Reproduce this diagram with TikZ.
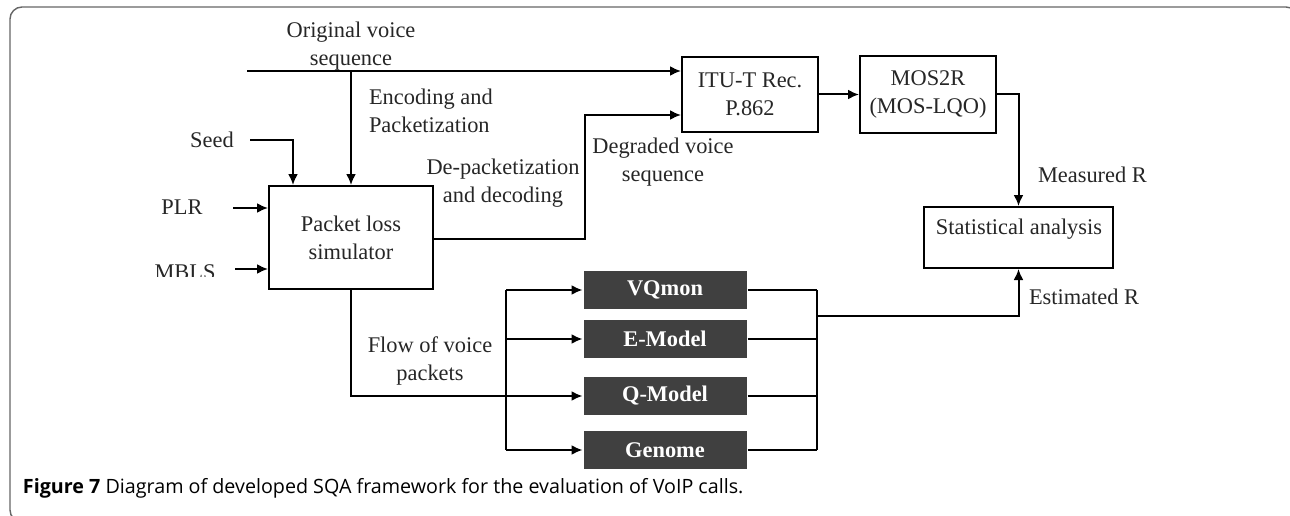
\documentclass[tikz,border=0pt]{standalone}
\usepackage{fontspec}
\setmainfont{Liberation Serif}
\newfontfamily\capfont{Open Sans}
\usetikzlibrary{arrows.meta}

\begin{document}
\begin{tikzpicture}[x=1pt,y=-1pt,line width=2pt,
    >={Latex[length=11pt,width=10pt]},
    every node/.style={font=\fontsize{22.4}{28}\selectfont,text=black!85,inner sep=2pt},
    blk/.style={draw,rectangle,align=center},
    model/.style={fill=black!75,text=white,font=\fontsize{22.4}{28}\selectfont\bfseries,
                  minimum width=163pt,minimum height=38pt,inner sep=0pt},
    lbl/.style={align=center}]
    \clip (0,0) rectangle (1290,516);
    \draw[black!60,line width=1.4pt,rounded corners=12pt] (10,7) rectangle (1298,522);
    % blocks
    \node[blk,minimum width=164pt,minimum height=103pt] (plsim) at (351,237.5) {Packet loss\\simulator};
    \node[blk,minimum width=136pt,minimum height=75pt] (itu) at (750,94.5) {ITU-T Rec.\\P.862};
    \node[blk,minimum width=136pt,minimum height=77pt] (mos) at (928,94.5) {MOS2R\\(MOS-LQO)};
    \node[blk,minimum width=189pt,minimum height=61pt] (stat) at (1018.5,237.5) {};
    \node (stattxt) at (1019,229) {Statistical analysis};
    \node[model] (vq) at (665,290) {VQmon};
    \node[model] (em) at (665,339) {E-Model};
    \node[model] (qm) at (665,396) {Q-Model};
    \node[model] (gn) at (665,450) {Genome};
    % inputs
    \node (seed) at (212,140) {Seed};
    \node (plr) at (182,207) {PLR};
    \begin{scope}
        \clip (100,250) rectangle (240,276);
        \node (mbls) at (185,272.5) {MBLS};
    \end{scope}
    \coordinate (origin) at (247,71);
    \coordinate (seedout) at (250,140);
    \coordinate (plrout) at (233,208);
    \coordinate (mblsout) at (235,269);
    \coordinate (degup) at (585,115);
    \coordinate (busin) at (506,0);
    \coordinate (busout) at (817,0);
    \coordinate (merge) at (817,316);
    % labels
    \node[lbl] (origlbl) at (351,46.5) {Original voice\\sequence};
    \node[align=left,anchor=west] (enclbl) at (366,111) {Encoding and\\Packetization};
    \node[lbl] (declbl) at (503,183.5) {De-packetization\\and decoding};
    \node[lbl] (deglbl) at (663,162) {Degraded voice\\sequence};
    \node[lbl] (flowlbl) at (430,361) {Flow of voice\\packets};
    \node[anchor=west] (measlbl) at (1035,175) {Measured R};
    \node[anchor=west] (estlbl) at (1026,297) {Estimated R};
    % connectors
    \draw[->] (origin) -- (origin -| itu.west);
    \draw[->] (origin -| plsim.north) -- (plsim.north);
    \draw[->] (seedout) -| ([xshift=-58pt]plsim.north);
    \draw[->] (plrout) -- (plrout -| plsim.west);
    \draw[->] (mblsout) -- (mblsout -| plsim.west);
    \draw[->] ([yshift=-1.5pt]plsim.east) -| (degup) -- (degup -| itu.west);
    \draw[->] (itu.east) -- (mos.west);
    \draw[->] (mos.east) -| (stat.north);
    \draw[->] (plsim.south) |- (qm.west);
    \draw (busin |- vq.west) -- (busin |- gn.west);
    \foreach \m in {vq,em,gn}
        \draw[->] (busin |- \m.west) -- (\m.west);
    \foreach \m in {vq,em,qm,gn}
        \draw (\m.east) -- (busout |- \m.east);
    \draw (busout |- vq.east) -- (busout |- gn.east);
    \draw[->] (merge) -| (stat.south);
    % caption
    \node[anchor=west,inner sep=0pt,font=\capfont\fontsize{19.7}{24}\selectfont,text=black] (caption)
        at (22,488) {\textbf{Figure 7} Diagram of developed SQA framework for the evaluation of VoIP calls.};
\end{tikzpicture}
\end{document}
